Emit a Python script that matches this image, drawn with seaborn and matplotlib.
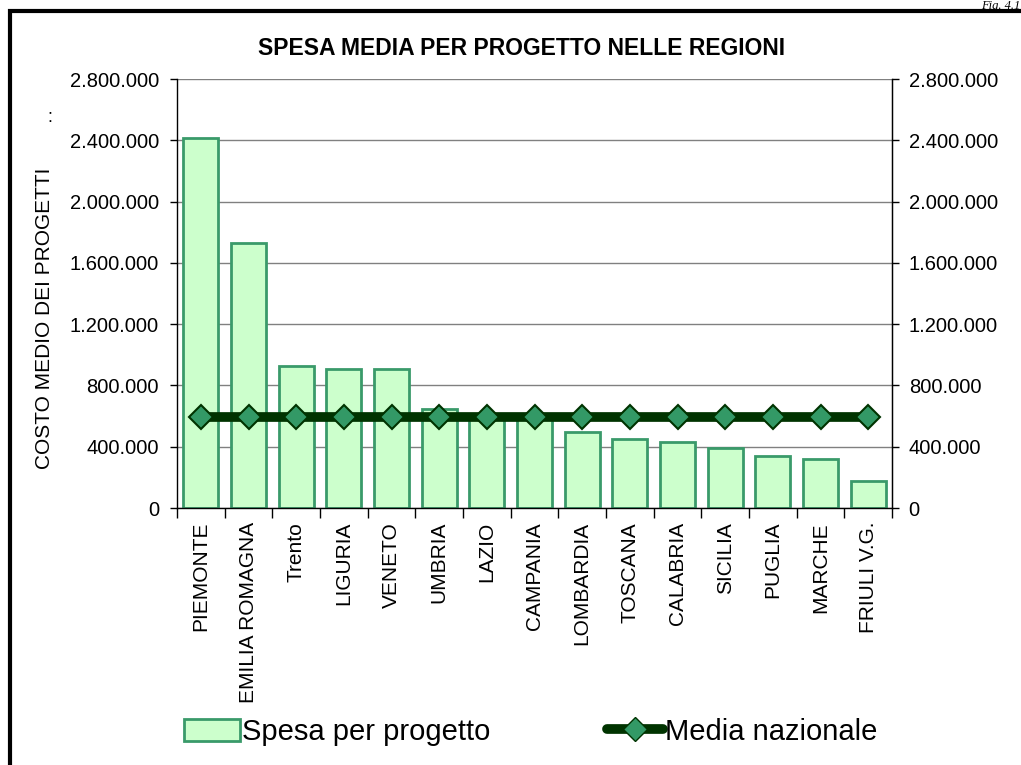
import matplotlib
matplotlib.use("Agg")
import matplotlib.pyplot as plt
import matplotlib.patches as mpatches
from matplotlib.lines import Line2D
from matplotlib.ticker import FuncFormatter, FixedLocator
import pandas as pd
import seaborn as sns

# Data
regioni = ["PIEMONTE", "EMILIA ROMAGNA", "Trento", "LIGURIA", "VENETO", "UMBRIA",
           "LAZIO", "CAMPANIA", "LOMBARDIA", "TOSCANA", "CALABRIA", "SICILIA",
           "PUGLIA", "MARCHE", "FRIULI V.G."]
spesa = [2415000, 1730000, 927000, 907000, 905000, 646000, 605000, 598000,
         494000, 448000, 429000, 390000, 341000, 320000, 178000]
media_nazionale = 592000
yticks = [0, 400000, 800000, 1200000, 1600000, 2000000, 2400000, 2800000]

df = pd.DataFrame({"regione": regioni, "spesa": spesa})
df["media"] = media_nazionale

sns.set_style("white")
plt.rcParams["font.family"] = ["Liberation Sans", "DejaVu Sans"]
plt.rcParams["text.color"] = "black"
plt.rcParams["axes.labelcolor"] = "black"
plt.rcParams["xtick.color"] = "black"
plt.rcParams["ytick.color"] = "black"

fig = plt.figure(figsize=(10.21, 7.65), dpi=100)
ax = fig.add_axes([0.1734, 0.3359, 0.7003, 0.5608])

sns.barplot(data=df, x="regione", y="spesa", color="#CCFFCC", saturation=1,
            edgecolor="#3A9A6A", linewidth=2, width=0.73, ax=ax, zorder=2)
ax.plot(df["regione"], df["media"], color="#003300", linewidth=7, zorder=4,
        marker="D", markersize=12, markerfacecolor="#339966",
        markeredgecolor="#003300", markeredgewidth=1.5)

fmt = FuncFormatter(lambda v, p: f"{int(v):,}".replace(",", "."))
ax.set_ylim(0, 2800000)
ax.set_xlim(-0.5, len(regioni) - 0.5)
ax.yaxis.set_major_locator(FixedLocator(yticks))
ax.yaxis.set_major_formatter(fmt)
ax.grid(axis="y", color="#808080", linewidth=1, zorder=0)
ax.set_axisbelow(True)

ax.spines["top"].set_visible(False)
for s in ["left", "bottom", "right"]:
    ax.spines[s].set_visible(True)
    ax.spines[s].set_color("black")
    ax.spines[s].set_linewidth(1)

ax.tick_params(axis="y", which="major", direction="out", length=5, width=1,
               labelsize=14.5, left=True, pad=8)
ax.set_xticks(range(len(regioni)))
ax.set_xticklabels(regioni, rotation=90, fontsize=15, va="top")
ax.tick_params(axis="x", which="major", length=0, pad=10)
ax.set_xticks([i - 0.5 for i in range(len(regioni) + 1)], minor=True)
ax.tick_params(axis="x", which="minor", direction="out", length=7, width=1,
               bottom=True)
ax.set_xlabel("")
ax.set_ylabel("")

ax2 = ax.twinx()
ax2.set_ylim(ax.get_ylim())
ax2.yaxis.set_major_locator(FixedLocator(yticks))
ax2.yaxis.set_major_formatter(fmt)
ax2.tick_params(axis="y", direction="out", length=5, width=1, labelsize=14.5,
                right=True, pad=7)
for s in ["top", "left", "bottom"]:
    ax2.spines[s].set_visible(False)
ax2.spines["right"].set_color("black")

fig.text(45 / 1021, 1 - 318 / 765, "COSTO MEDIO DEI PROGETTI", fontsize=15,
         rotation=90, ha="center", va="center")
fig.text(50 / 1021, 1 - 117 / 765, ":", fontsize=13, ha="center", va="center")
fig.text(0.511, 0.9366, "SPESA MEDIA PER PROGETTO NELLE REGIONI",
         fontsize=16.5, fontweight="bold", ha="center", va="center")
fig.text(0.999, 0.9995, "Fig. 4.1", fontsize=9, style="italic",
         family="Liberation Serif", ha="right", va="top")

# outer frame
frame = mpatches.Rectangle((0.0095, -0.05), 1.2, 1.036, transform=fig.transFigure,
                           fill=False, edgecolor="black", linewidth=3)
fig.patches.append(frame)

handles = [mpatches.Patch(facecolor="#CCFFCC", edgecolor="#3A9A6A", linewidth=2),
           Line2D([0], [0], color="#003300", linewidth=7, marker="D",
                  markersize=12, markerfacecolor="#339966",
                  markeredgecolor="#003300")]
fig.legend(handles, ["Spesa per progetto", "Media nazionale"], loc="center",
           bbox_to_anchor=(0.52, 0.043), ncol=2, frameon=False, fontsize=21,
           handlelength=1.9, handleheight=0.8, handletextpad=0.08,
           columnspacing=4.0)

fig.savefig("out.png", dpi=100)
